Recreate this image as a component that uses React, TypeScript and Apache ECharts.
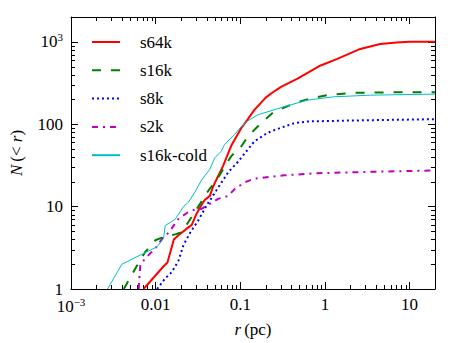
import React, { useEffect, useRef } from "react";
import * as echarts from "echarts";

// ---- data ----
const seriesNames = ["s64k", "s16k", "s8k", "s2k", "s16k-cold"];

const rS64k = [0.0072, 0.0125, 0.0138, 0.0164, 0.0186, 0.0244, 0.0267, 0.0305, 0.0335, 0.038, 0.0437, 0.0478, 0.052, 0.0625, 0.0784, 0.103, 0.123, 0.147, 0.2, 0.231, 0.303, 0.475, 0.89, 1.4, 2.62, 4.5, 7.06, 10, 20];
const nS64k = [1, 1.9, 2.1, 4, 4.5, 5.6, 6, 8.2, 9.8, 12, 13.5, 17.5, 21, 31, 55, 90, 115, 149, 210, 236, 284, 357, 516, 621, 820, 941, 984, 1000, 1000];

const rS16k = [0.0042, 0.0058, 0.0075, 0.0099, 0.0125, 0.017, 0.0203, 0.0244, 0.0319, 0.0418, 0.0548, 0.0685, 0.0783, 0.103, 0.123, 0.176, 0.252, 0.433, 0.68, 1.07, 2.19, 5, 20];
const nS16k = [1, 1.8, 2.8, 3.9, 4.3, 4.6, 4.9, 6.5, 10, 15.5, 22.5, 33, 41, 54, 71, 103, 142, 179, 206, 225, 240, 243, 245];

const rS8k = [0.0104, 0.013, 0.0155, 0.0186, 0.0213, 0.0255, 0.0319, 0.04, 0.0548, 0.0718, 0.094, 0.128, 0.147, 0.2, 0.231, 0.433, 0.622, 2.19, 20];
const nS8k = [1, 1.35, 1.6, 2.2, 3.4, 4.8, 6.8, 10.3, 17, 26, 35, 52, 62, 76, 82, 103, 108, 111, 115];

const rS2k = [0.0063, 0.0066, 0.0083, 0.0099, 0.0124, 0.0142, 0.0186, 0.0244, 0.0291, 0.0348, 0.0418, 0.0548, 0.0718, 0.0858, 0.112, 0.147, 0.33, 0.81, 2.86, 20];
const nS2k = [1, 2, 2.6, 3.1, 4.3, 4.8, 7.1, 8.6, 9.2, 9.4, 10.5, 12.4, 13.5, 16.3, 19.6, 21.9, 24, 25.4, 26.3, 27.5];

const rS16kCold = [0.0027, 0.004, 0.0083, 0.0104, 0.0124, 0.013, 0.017, 0.0213, 0.0244, 0.0291, 0.0349, 0.0381, 0.0437, 0.05, 0.0596, 0.0655, 0.0858, 0.103, 0.123, 0.161, 0.33, 0.622, 1.27, 3.43, 20];
const nS16kCold = [1, 2, 2.9, 3.25, 4.1, 5.9, 7, 10, 11.3, 15, 21, 23.6, 28.4, 39, 47, 57, 75, 94, 110, 130, 163, 196, 215, 225, 232];

const xMin = 0.001;
const xMax = 20;
const yMin = 1;
const yMax = 2000;
const xDecades = [0.001, 0.01, 0.1, 1, 10];
const yDecades = [1, 10, 100, 1000];
const minorMultipliers = [2, 3, 4, 5, 6, 7, 8, 9];

const FONT = "Liberation Serif";

const zip = (a: number[], b: number[]) => a.map((v, i) => [v, b[i]]);

function minorValues(decades: number[], max: number) {
  const out: number[] = [];
  decades.forEach((d) => minorMultipliers.forEach((m) => {
    const v = d * m;
    if (v < max) out.push(v);
  }));
  return out;
}

const richText = {
  n: { fontSize: 17, fontFamily: FONT, color: "#000" },
  sup: { fontSize: 11, fontFamily: FONT, color: "#000", padding: [0, 0, 9, 0] },
  i: { fontSize: 17, fontFamily: FONT, color: "#000", fontStyle: "italic" as const },
};

function xLabel(v: number) {
  const e = Math.round(Math.log10(v));
  if (e === -3) return "{n|10}{sup|−3}";
  if (e < 0) return "{n|" + (10 ** e).toFixed(-e) + "}";
  return "{n|" + String(10 ** e) + "}";
}
function yLabel(v: number) {
  const e = Math.round(Math.log10(v));
  if (e === 3) return "{n|10}{sup|3}";
  return "{n|" + String(10 ** e) + "}";
}

export default function App() {
  const ref = useRef<HTMLDivElement>(null);
  useEffect(() => {
    if (!ref.current) return;
    const chart = echarts.init(ref.current, undefined, { renderer: "svg" });

    const tickStyle = { stroke: "#000", lineWidth: 1 };
    const commonAxis = {
      type: "log" as const,
      logBase: 10,
      axisLine: { show: true, lineStyle: { color: "#000", width: 1 } },
      axisTick: { show: true, inside: true, length: 7, lineStyle: { color: "#000", width: 1 } },
      splitLine: { show: false },
    };

    const xMinor = minorValues(xDecades, xMax).map((v) => [v, yMin]);
    const yMinor = minorValues(yDecades, yMax).map((v) => [xMin, v]);

    const lineSeries = [
      { name: "s64k", r: rS64k, n: nS64k, color: "#ff0000", width: 2, type: "solid" as any },
      { name: "s16k", r: rS16k, n: nS16k, color: "#008000", width: 2, type: [9, 10] },
      { name: "s8k", r: rS8k, n: nS8k, color: "#0000ff", width: 2, type: [2, 3] },
      { name: "s2k", r: rS2k, n: nS2k, color: "#bf00bf", width: 2, type: [6, 5, 2, 5] },
      { name: "s16k-cold", r: rS16kCold, n: nS16kCold, color: "#00bfbf", width: 1, type: "solid" as any },
    ];

    chart.setOption({
      animation: false,
      backgroundColor: "#fff",
      textStyle: { fontFamily: FONT },
      grid: { left: 69, right: 23, top: 17, bottom: 52 },
      legend: {
        data: seriesNames,
        orient: "vertical",
        left: 91,
        top: 33.5,
        padding: 0,
        itemWidth: 28,
        itemHeight: 16,
        itemGap: 11.3,
        itemStyle: { opacity: 0 },
        textStyle: { fontSize: 17, fontFamily: FONT, color: "#000", lineHeight: 16, padding: [0, 0, 0, 15] },
      },
      xAxis: [
        {
          ...commonAxis,
          min: xMin,
          max: xMax,
          position: "bottom",
          name: "{i|r} {n|(pc)}",
          nameLocation: "middle",
          nameGap: 32,
          nameTextStyle: { rich: richText },
          axisLabel: { show: true, margin: 7, formatter: xLabel, rich: richText, showMaxLabel: false },
        },
        {
          ...commonAxis,
          min: xMin,
          max: xMax,
          position: "top",
          axisLabel: { show: false },
        },
      ],
      yAxis: [
        {
          ...commonAxis,
          min: yMin,
          max: yMax,
          position: "left",
          name: "{i|N} {n|(< }{i|r}{n|)}",
          nameLocation: "middle",
          nameGap: 46,
          nameRotate: 90,
          nameTextStyle: { rich: richText },
          axisLabel: { show: true, margin: 8, formatter: yLabel, rich: richText, showMaxLabel: false },
        },
        {
          ...commonAxis,
          min: yMin,
          max: yMax,
          position: "right",
          axisLabel: { show: false },
        },
      ],
      series: [
        ...lineSeries.map((s) => ({
          name: s.name,
          type: "line",
          xAxisIndex: 0,
          yAxisIndex: 0,
          data: zip(s.r, s.n),
          symbol: "none",
          showSymbol: false,
          smooth: false,
          clip: true,
          itemStyle: { color: s.color },
          lineStyle: { color: s.color, width: s.width, type: s.type },
        })),
        {
          type: "custom",
          name: "xminor",
          xAxisIndex: 0,
          yAxisIndex: 0,
          data: xMinor,
          silent: true,
          renderItem: (params: any, api: any) => {
            const p = api.coord([api.value(0), api.value(1)]);
            const cs = params.coordSys;
            const x = Math.round(p[0]) + 0.5;
            return {
              type: "group",
              children: [
                { type: "line", shape: { x1: x, y1: cs.y + cs.height, x2: x, y2: cs.y + cs.height - 4 }, style: tickStyle },
                { type: "line", shape: { x1: x, y1: cs.y, x2: x, y2: cs.y + 4 }, style: tickStyle },
              ],
            };
          },
        },
        {
          type: "custom",
          name: "yminor",
          xAxisIndex: 0,
          yAxisIndex: 0,
          data: yMinor,
          silent: true,
          renderItem: (params: any, api: any) => {
            const p = api.coord([api.value(0), api.value(1)]);
            const cs = params.coordSys;
            const y = Math.round(p[1]) + 0.5;
            return {
              type: "group",
              children: [
                { type: "line", shape: { x1: cs.x, y1: y, x2: cs.x + 4, y2: y }, style: tickStyle },
                { type: "line", shape: { x1: cs.x + cs.width, y1: y, x2: cs.x + cs.width - 4, y2: y }, style: tickStyle },
              ],
            };
          },
        },
      ],
    });
    return () => chart.dispose();
  }, []);
  return <div ref={ref} style={{ position: "fixed", left: 0, top: 0, width: 458, height: 343 }} />;
}
